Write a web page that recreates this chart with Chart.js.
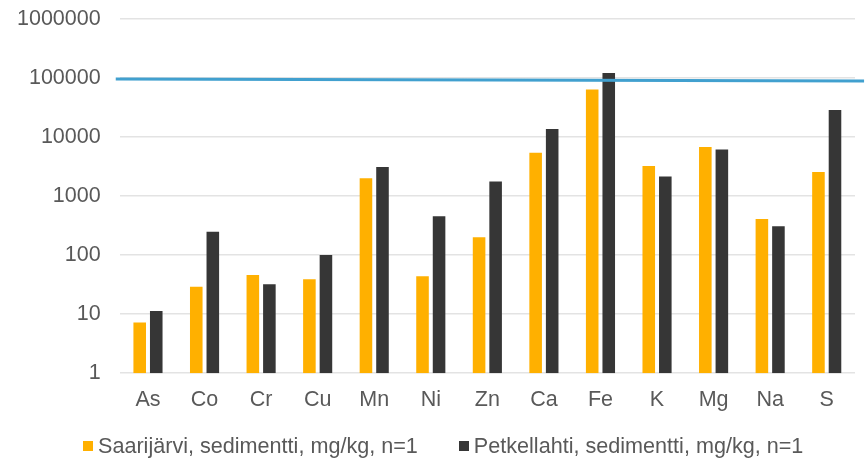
<!DOCTYPE html>
<html>
<head>
<meta charset="utf-8">
<script src="https://cdn.jsdelivr.net/npm/chart.js@4/dist/chart.umd.min.js"></script>
<style>
  html, body { margin: 0; padding: 0; background: #ffffff; }
  #wrap { width: 867px; height: 459px; position: relative; }
  #legend {
    position: absolute; left: 83px; top: 433px; height: 26px;
    display: flex; align-items: center; gap: 41px;
    font-family: "Liberation Sans", Arial, sans-serif; font-size: 21.6px; color: #595959;
    white-space: nowrap;
  }
  #legend .item { display: flex; align-items: center; }
  #legend .box { width: 10px; height: 10px; margin-right: 5px; }
</style>
</head>
<body>
<div id="wrap">
  <canvas id="chart"></canvas>
  <div id="legend"></div>
</div>
<script>
// Element concentrations in sediment (mg/kg)
const categories = ['As', 'Co', 'Cr', 'Cu', 'Mn', 'Ni', 'Zn', 'Ca', 'Fe', 'K', 'Mg', 'Na', 'S'];
const saarijarvi = [7.2, 29, 46, 39, 2000, 44, 200, 5400, 64000, 3250, 6800, 410, 2550];
const petkellahti = [11.3, 250, 32, 101, 3100, 455, 1760, 13700, 122000, 2150, 6150, 310, 28800];

// Reference line running across the whole plot (x on a 0..13 helper scale)
const refLineX = [-0.07, 13.16];
const refLineY = [96700, 89500];

// Tick values of the logarithmic axis
const tickValues = [1, 10, 100, 1000, 10000, 100000, 1000000];

const seriesNames = [
  'Saarijärvi, sedimentti, mg/kg, n=1',
  'Petkellahti, sedimentti, mg/kg, n=1'
];

const textColor = '#595959';
const fontFamily = '"Liberation Sans", Arial, sans-serif';

const chart = new Chart(document.getElementById('chart'), {
  type: 'bar',
  data: {
    labels: categories,
    datasets: [
      {
        type: 'line',
        label: 'ref',
        data: refLineX.map((x, i) => ({ x: x, y: refLineY[i] })),
        xAxisID: 'x2',
        borderColor: '#41A0CF',
        borderWidth: 3,
        pointRadius: 0,
        clip: false,
        order: 0
      },
      {
        label: seriesNames[0],
        data: saarijarvi,
        backgroundColor: '#FFB000',
        borderWidth: 0,
        order: 1
      },
      {
        label: seriesNames[1],
        data: petkellahti,
        backgroundColor: '#363636',
        borderWidth: 0,
        order: 1
      }
    ]
  },
  options: {
    responsive: true,
    maintainAspectRatio: false,
    animation: false,
    layout: { padding: { left: -2, right: 12, top: 19, bottom: 40 } },
    // With the extra line dataset the category is split into four slots,
    // so the group width is set relative to that.
    datasets: {
      bar: { categoryPercentage: 1.17, barPercentage: 0.76 }
    },
    scales: {
      x: {
        type: 'category',
        grid: { display: false },
        border: { display: false },
        ticks: {
          color: textColor,
          font: { family: fontFamily, size: 21.5 },
          padding: 6,
          maxRotation: 0
        }
      },
      x2: {
        type: 'linear',
        min: 0,
        max: 13,
        offset: false,
        display: false
      },
      y: {
        type: 'logarithmic',
        min: 1,
        max: 1000000,
        afterBuildTicks: (scale) => {
          scale.ticks = tickValues.map(v => ({ value: v }));
        },
        afterFit: (scale) => {
          scale.paddingTop = 0;
          scale.paddingBottom = 0;
        },
        grid: { color: '#E3E3E3', lineWidth: 1.5, drawTicks: false },
        border: { display: false },
        ticks: {
          color: textColor,
          font: { family: fontFamily, size: 21.5 },
          padding: 19,
          callback: (v) => String(v)
        }
      }
    },
    plugins: {
      tooltip: { enabled: false },
      legend: { display: false }
    }
  }
});

// Legend built from the chart's own legend items (bar series only)
const legendEl = document.getElementById('legend');
chart.options.plugins.legend.labels.generateLabels(chart)
  .filter(item => item.datasetIndex !== 0)
  .forEach(item => {
    const row = document.createElement('div');
    row.className = 'item';
    const box = document.createElement('span');
    box.className = 'box';
    box.style.background = item.fillStyle;
    const txt = document.createElement('span');
    txt.textContent = item.text;
    row.appendChild(box);
    row.appendChild(txt);
    legendEl.appendChild(row);
  });
</script>
</body>
</html>
